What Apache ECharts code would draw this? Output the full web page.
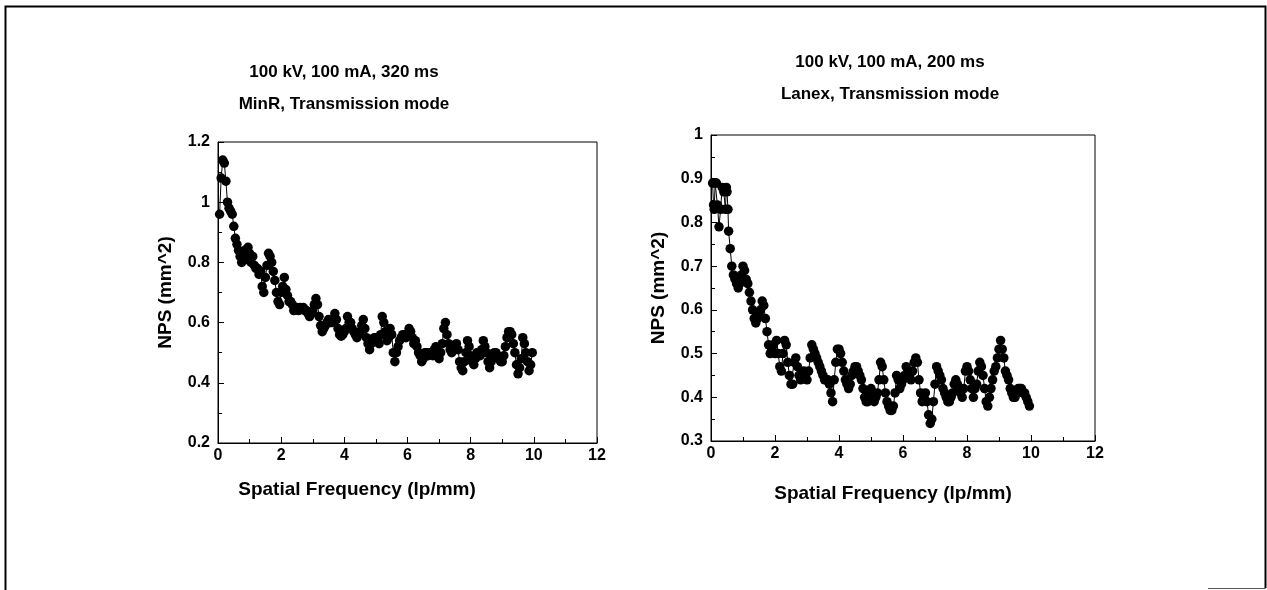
<!DOCTYPE html>
<html>
<head>
<meta charset="utf-8">
<script src="https://cdn.jsdelivr.net/npm/echarts@6/dist/echarts.min.js"></script>
<style>
html,body{margin:0;padding:0;background:#fff;}
#chart{width:1267px;height:590px;}
</style>
</head>
<body>
<div id="chart"></div>
<script>
// ---- Data ----
const leftTitle = "100 kV, 100 mA, 320 ms\nMinR, Transmission mode";
const rightTitle = "100 kV, 100 mA, 200 ms\nLanex, Transmission mode";
const xAxisName = "Spatial Frequency (lp/mm)";
const yAxisName = "NPS (mm^2)";

const minrData = [
[0.05,0.96],[0.1,1.08],[0.15,1.14],[0.2,1.13],[0.25,1.07],[0.3,1.0],[0.35,0.98],[0.4,0.97],[0.45,0.96],[0.5,0.92],
[0.55,0.88],[0.6,0.86],[0.65,0.84],[0.7,0.82],[0.75,0.8],[0.8,0.82],[0.85,0.84],[0.9,0.81],[0.95,0.85],[1.0,0.83],
[1.05,0.8],[1.1,0.82],[1.15,0.79],[1.2,0.78],[1.25,0.78],[1.3,0.76],[1.35,0.77],[1.4,0.72],[1.45,0.7],[1.5,0.75],
[1.55,0.79],[1.6,0.83],[1.65,0.82],[1.7,0.8],[1.75,0.77],[1.8,0.74],[1.85,0.7],[1.9,0.67],[1.95,0.66],[2.0,0.7],
[2.05,0.72],[2.1,0.75],[2.15,0.71],[2.2,0.69],[2.25,0.67],[2.3,0.67],[2.35,0.66],[2.4,0.64],[2.45,0.65],[2.5,0.65],
[2.55,0.64],[2.6,0.65],[2.7,0.65],[2.75,0.64],[2.8,0.64],[2.85,0.63],[2.9,0.62],[2.95,0.63],[3.0,0.64],[3.05,0.66],
[3.1,0.68],[3.15,0.66],[3.2,0.62],[3.25,0.59],[3.3,0.57],[3.35,0.58],[3.4,0.59],[3.45,0.6],[3.5,0.61],[3.55,0.6],
[3.6,0.6],[3.65,0.61],[3.7,0.63],[3.75,0.61],[3.8,0.58],[3.85,0.56],[3.9,0.555],[3.95,0.56],[4.0,0.57],[4.05,0.58],
[4.1,0.62],[4.15,0.6],[4.2,0.6],[4.25,0.58],[4.3,0.57],[4.35,0.56],[4.4,0.55],[4.45,0.56],[4.5,0.57],[4.55,0.59],
[4.6,0.61],[4.65,0.58],[4.7,0.55],[4.75,0.53],[4.8,0.51],[4.85,0.53],[4.9,0.54],[4.95,0.55],[5.0,0.55],[5.05,0.54],
[5.1,0.53],[5.15,0.56],[5.2,0.62],[5.25,0.6],[5.3,0.57],[5.35,0.54],[5.4,0.55],[5.45,0.58],[5.5,0.56],[5.55,0.5],
[5.6,0.47],[5.65,0.5],[5.7,0.52],[5.75,0.54],[5.8,0.55],[5.85,0.56],[5.9,0.56],[5.95,0.55],[6.0,0.56],[6.05,0.58],
[6.1,0.57],[6.15,0.55],[6.2,0.53],[6.25,0.54],[6.3,0.52],[6.35,0.5],[6.4,0.49],[6.45,0.47],[6.5,0.48],[6.55,0.5],
[6.6,0.5],[6.65,0.49],[6.7,0.5],[6.75,0.5],[6.8,0.49],[6.85,0.51],[6.9,0.52],[6.95,0.5],[7.0,0.48],[7.05,0.5],
[7.1,0.53],[7.15,0.58],[7.2,0.6],[7.25,0.56],[7.3,0.53],[7.35,0.51],[7.4,0.5],[7.45,0.51],[7.5,0.52],[7.55,0.53],
[7.6,0.51],[7.65,0.47],[7.7,0.45],[7.75,0.44],[7.8,0.47],[7.85,0.5],[7.9,0.54],[7.95,0.52],[8.0,0.49],[8.05,0.47],
[8.1,0.46],[8.15,0.48],[8.2,0.5],[8.25,0.5],[8.3,0.49],[8.35,0.51],[8.4,0.54],[8.45,0.52],[8.5,0.5],[8.55,0.47],
[8.6,0.45],[8.65,0.47],[8.7,0.49],[8.75,0.5],[8.8,0.5],[8.85,0.49],[8.9,0.48],[8.95,0.47],[9.0,0.47],[9.05,0.49],
[9.1,0.52],[9.15,0.55],[9.2,0.57],[9.25,0.57],[9.3,0.56],[9.35,0.53],[9.4,0.5],[9.45,0.46],[9.5,0.43],[9.55,0.45],
[9.6,0.48],[9.65,0.55],[9.7,0.53],[9.75,0.5],[9.8,0.47],[9.85,0.44],[9.9,0.46],[9.95,0.5]
];

const lanexData = [
[0.05,0.89],[0.08,0.84],[0.1,0.83],[0.13,0.89],[0.17,0.89],[0.2,0.84],[0.25,0.79],[0.3,0.83],[0.35,0.88],[0.4,0.87],
[0.45,0.83],[0.48,0.88],[0.5,0.87],[0.53,0.83],[0.55,0.78],[0.6,0.74],[0.65,0.7],[0.7,0.68],[0.75,0.67],[0.8,0.66],
[0.85,0.65],[0.9,0.66],[0.95,0.68],[1.0,0.7],[1.05,0.69],[1.1,0.67],[1.15,0.66],[1.2,0.64],[1.25,0.62],[1.3,0.6],
[1.35,0.58],[1.4,0.57],[1.45,0.58],[1.5,0.59],[1.55,0.6],[1.6,0.62],[1.65,0.61],[1.7,0.58],[1.75,0.55],[1.8,0.52],
[1.85,0.5],[1.9,0.51],[1.95,0.52],[2.0,0.5],[2.05,0.53],[2.1,0.5],[2.15,0.47],[2.2,0.46],[2.25,0.5],[2.3,0.53],
[2.35,0.52],[2.4,0.48],[2.45,0.45],[2.5,0.43],[2.55,0.43],[2.6,0.48],[2.65,0.49],[2.7,0.47],[2.75,0.45],[2.8,0.44],
[2.85,0.45],[2.9,0.46],[2.95,0.45],[3.0,0.44],[3.05,0.46],[3.1,0.49],[3.15,0.52],[3.2,0.51],[3.25,0.5],[3.3,0.49],
[3.35,0.48],[3.4,0.47],[3.45,0.46],[3.5,0.45],[3.55,0.44],[3.6,0.44],[3.65,0.44],[3.7,0.43],[3.75,0.41],[3.8,0.39],
[3.85,0.44],[3.9,0.48],[3.95,0.51],[4.0,0.51],[4.05,0.5],[4.1,0.48],[4.15,0.46],[4.2,0.44],[4.25,0.43],[4.3,0.42],
[4.35,0.43],[4.4,0.45],[4.45,0.46],[4.5,0.47],[4.55,0.47],[4.6,0.46],[4.65,0.45],[4.7,0.44],[4.75,0.42],[4.8,0.4],
[4.85,0.39],[4.9,0.39],[4.95,0.41],[5.0,0.42],[5.05,0.4],[5.1,0.39],[5.15,0.4],[5.2,0.41],[5.25,0.44],[5.3,0.48],
[5.35,0.47],[5.4,0.44],[5.45,0.41],[5.5,0.39],[5.55,0.38],[5.6,0.37],[5.65,0.37],[5.7,0.38],[5.75,0.41],[5.8,0.45],
[5.85,0.44],[5.9,0.42],[5.95,0.43],[6.0,0.44],[6.05,0.45],[6.1,0.47],[6.15,0.46],[6.2,0.45],[6.25,0.44],[6.3,0.46],
[6.35,0.48],[6.4,0.49],[6.45,0.48],[6.5,0.44],[6.55,0.41],[6.6,0.39],[6.65,0.4],[6.7,0.41],[6.75,0.39],[6.8,0.36],
[6.85,0.34],[6.9,0.35],[6.95,0.39],[7.0,0.43],[7.05,0.47],[7.1,0.46],[7.15,0.45],[7.2,0.44],[7.25,0.42],[7.3,0.41],
[7.35,0.4],[7.4,0.39],[7.45,0.39],[7.5,0.4],[7.55,0.41],[7.6,0.43],[7.65,0.44],[7.7,0.43],[7.75,0.42],[7.8,0.41],
[7.85,0.4],[7.9,0.42],[7.95,0.46],[8.0,0.47],[8.05,0.46],[8.1,0.44],[8.15,0.42],[8.2,0.4],[8.25,0.42],[8.3,0.43],
[8.35,0.46],[8.4,0.48],[8.45,0.47],[8.5,0.45],[8.55,0.42],[8.6,0.39],[8.65,0.38],[8.7,0.4],[8.75,0.42],[8.8,0.44],
[8.85,0.46],[8.9,0.47],[8.95,0.49],[9.0,0.51],[9.05,0.53],[9.1,0.51],[9.15,0.49],[9.2,0.46],[9.25,0.45],[9.3,0.44],
[9.35,0.42],[9.4,0.41],[9.45,0.4],[9.5,0.4],[9.55,0.41],[9.6,0.42],[9.65,0.42],[9.7,0.42],[9.75,0.41],[9.8,0.41],
[9.85,0.4],[9.9,0.39],[9.95,0.38]
];

const xAxisRange = {min:0, max:12, interval:2};
const leftYRange = {min:0.2, max:1.2, interval:0.2};
const rightYRange = {min:0.3, max:1.0, interval:0.1};

// ---- Chart ----
const FONT = '"Liberation Sans", Arial, sans-serif';
const chart = echarts.init(document.getElementById('chart'), null, {renderer:'canvas'});

function xAxisCfg(gridIndex){
  return {
    type:'value', gridIndex, min:xAxisRange.min, max:xAxisRange.max, interval:xAxisRange.interval,
    axisLine:{show:true, lineStyle:{color:'#000', width:1}},
    axisTick:{show:true, inside:true, length:6, lineStyle:{color:'#000'}},
    minorTick:{show:true, splitNumber:2, length:4, lineStyle:{color:'#000'}},
    axisLabel:{fontFamily:FONT, fontWeight:'bold', fontSize:16, color:'#000', margin:5},
    splitLine:{show:false}
  };
}
function yAxisCfg(gridIndex, r){
  return {
    type:'value', gridIndex, min:r.min, max:r.max, interval:r.interval,
    name:yAxisName, nameLocation:'middle', nameGap:43, nameRotate:90,
    nameTextStyle:{fontFamily:FONT, fontWeight:'bold', fontSize:19, color:'#000'},
    axisLine:{show:true, lineStyle:{color:'#000', width:1}},
    axisTick:{show:true, inside:true, length:6, lineStyle:{color:'#000'}},
    minorTick:{show:true, splitNumber:2, length:4, lineStyle:{color:'#000'}},
    axisLabel:{fontFamily:FONT, fontWeight:'bold', fontSize:16, color:'#000', margin:8},
    splitLine:{show:false}
  };
}
function seriesCfg(idx, data){
  return {
    type:'line', xAxisIndex:idx, yAxisIndex:idx, data,
    symbol:'circle', symbolSize:9.5, showAllSymbol:true,
    itemStyle:{color:'#000'}, lineStyle:{color:'#000', width:1},
    animation:false
  };
}
const titleStyle = {fontFamily:FONT, fontWeight:'bold', fontSize:17, color:'#000', lineHeight:32};
const axisTitleStyle = {fontFamily:FONT, fontWeight:'bold', fontSize:19, fill:'#000', align:'center', verticalAlign:'middle'};

const option = {
  backgroundColor:'#fff',
  animation:false,
  title:[
    {text:leftTitle, left:339, top:51, textAlign:'center', textStyle:titleStyle},
    {text:rightTitle, left:885, top:41, textAlign:'center', textStyle:titleStyle}
  ],
  grid:[
    {left:218, top:142, width:379, height:301, show:true, borderColor:'#000', borderWidth:1, backgroundColor:'transparent'},
    {left:711, top:135, width:384, height:306, show:true, borderColor:'#000', borderWidth:1, backgroundColor:'transparent'}
  ],
  xAxis:[xAxisCfg(0), xAxisCfg(1)],
  yAxis:[yAxisCfg(0, leftYRange), yAxisCfg(1, rightYRange)],
  series:[seriesCfg(0, minrData), seriesCfg(1, lanexData)],
  graphic:[
    {type:'text', silent:true, x:357, y:490, style:Object.assign({text:xAxisName}, axisTitleStyle)},
    {type:'text', silent:true, x:893, y:494, style:Object.assign({text:xAxisName}, axisTitleStyle)},
    {type:'polyline', silent:true, shape:{points:[[5.5,590],[5.5,6.5],[1265.5,6.5],[1265.5,588]]},
     style:{stroke:'#000', lineWidth:2, fill:null}},
    {type:'line', silent:true, shape:{x1:1208, y1:588.5, x2:1265.5, y2:588.5},
     style:{stroke:'#555', lineWidth:1}}
  ]
};
chart.setOption(option);
</script>
</body>
</html>
